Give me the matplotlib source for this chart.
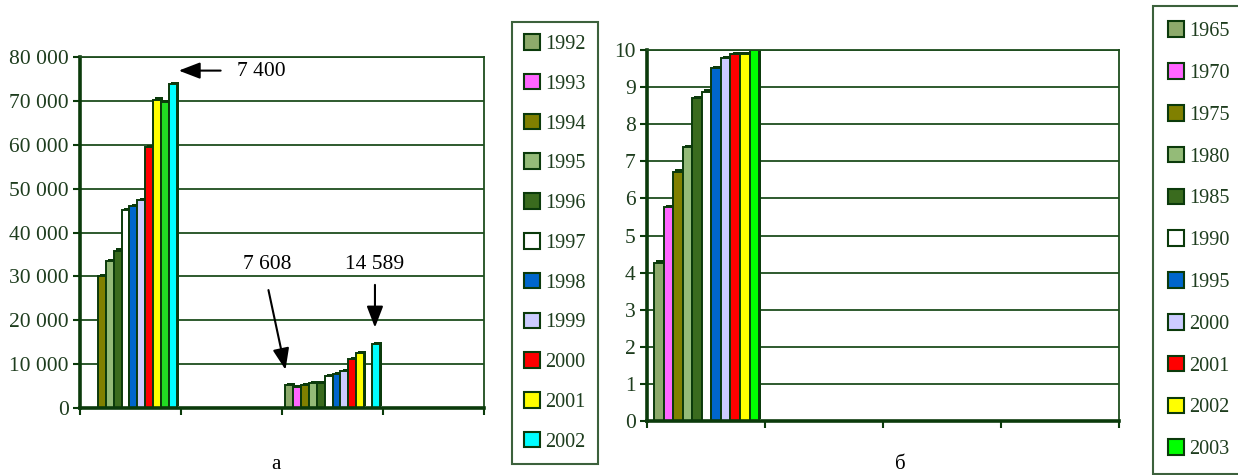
import matplotlib
matplotlib.use("Agg")
import matplotlib.pyplot as plt
from matplotlib.patches import Patch
import numpy as np

plt.rcParams['font.family'] = ['Liberation Serif', 'DejaVu Serif']

# chart "а": two groups of bars (categories 1 and 3 of 4)
years_a = ['1992', '1993', '1994', '1995', '1996', '1997',
           '1998', '1999', '2000', '2001', '', '2002']
group1_a = [0, 0, 30000, 33500, 35900, 45100, 46100, 47400, 59400, 70300, 69700, 73900]
group2_a = [5200, 4700, 5200, 5700, 5700, 7200, 7700, 8400, 11200, 12500, 0, 14589]
colors_a = ['#8DAA6B', '#FF66FF', '#808000', '#94BB78', '#3A6B1E', '#FFFFFF',
            '#0066CC', '#CCCCFF', '#FF0000', '#FFFF00', '#22DD22', '#00FFFF']
yticks_a = [0, 10000, 20000, 30000, 40000, 50000, 60000, 70000, 80000]
ylabels_a = ['0', '10 000', '20 000', '30 000', '40 000', '50 000',
             '60 000', '70 000', '80 000']

# chart "б": one group of bars
years_b = ['1965', '1970', '1975', '1980', '1985', '1990',
           '1995', '2000', '2001', '2002', '2003']
values_b = [4.27, 5.77, 6.72, 7.39, 8.70, 8.88, 9.51, 9.78, 9.89, 9.89, 10.0]
colors_b = ['#8DAA6B', '#FF66FF', '#808000', '#94BB78', '#3A6B1E', '#FFFFFF',
            '#0066CC', '#CCCCFF', '#FF0000', '#FFFF00', '#00FF00']

dark = '#0B3A0B'
txt = '#1E3D1E'

fig = plt.figure(figsize=(12.38, 4.75), dpi=100)


def style_axes(ax, ymax):
    ax.set_xlim(0, 4)
    ax.set_ylim(0, ymax)
    ax.yaxis.grid(True, color='#1E4D1E', linewidth=1.3)
    ax.set_axisbelow(True)
    for s in ['left', 'bottom']:
        ax.spines[s].set_color(dark)
        ax.spines[s].set_linewidth(2.6)
    for s in ['top', 'right']:
        ax.spines[s].set_color('#1E4D1E')
        ax.spines[s].set_linewidth(1.3)
    ax.set_xticks([0, 1, 2, 3, 4])
    ax.set_xticklabels([])
    ax.tick_params(axis='both', colors=dark, width=1.5, length=5, pad=3,
                   labelsize=15.5, labelcolor=txt, direction='out')


def bars3d(ax, x, h, w, color, dx, dy):
    # dark depth face behind the bar, then the bar itself
    h = np.asarray(h, dtype=float)
    ax.bar(np.asarray(x) + dx, np.where(h > 0, h, 0), width=w, bottom=dy,
           color=dark, linewidth=0, zorder=2)
    ax.bar(x, h, width=w, color=color, edgecolor=dark, linewidth=1.4, zorder=2)


def make_legend(handles, anchor, spacing, pad):
    leg = fig.legend(handles=handles, loc='upper left', bbox_to_anchor=anchor,
                     fontsize=14.6, frameon=True, fancybox=False, edgecolor=dark,
                     handlelength=0.8, handleheight=0.8, handletextpad=0.25,
                     labelspacing=spacing, borderpad=pad, borderaxespad=0)
    leg.get_frame().set_linewidth(1.5)
    for t in leg.get_texts():
        t.set_color(txt)
    return leg


# ---- chart а ----
ax1 = fig.add_axes([0.0646, 0.141, 0.3264, 0.739])
style_axes(ax1, 80000)
n = len(years_a)
w = 0.078
offs = (np.arange(n) - (n - 1) / 2) * w
for i in range(n):
    bars3d(ax1, [0.49 + offs[i], 2.5 + offs[i]], [group1_a[i], group2_a[i]], w,
           colors_a[i], 0.022, 500)
ax1.set_yticks(yticks_a)
ax1.set_yticklabels(ylabels_a)

arrow = dict(arrowstyle='-|>,head_length=1.3,head_width=0.5', color='black', lw=1.5)
ax1.annotate('', xy=(0.95, 76900), xytext=(1.42, 76900), arrowprops=arrow)
ax1.text(1.55, 76600, '7 400', fontsize=15.5, va='center', ha='left', color='black')
ax1.text(1.85, 32800, '7 608', fontsize=15.5, va='center', ha='center', color='black')
ax1.annotate('', xy=(2.04, 8100), xytext=(1.86, 27500), arrowprops=arrow)
ax1.text(2.92, 32800, '14 589', fontsize=15.5, va='center', ha='center', color='black')
ax1.annotate('', xy=(2.92, 17700), xytext=(2.92, 28700), arrowprops=arrow)

handles_a = [Patch(facecolor=colors_a[i], edgecolor=dark, linewidth=1.5, label=years_a[i])
             for i in range(n) if years_a[i]]
make_legend(handles_a, (0.4136, 0.9537), 0.985, 0.6)
fig.text(0.223, 0.012, 'а', fontsize=15, ha='center', color='black')

# ---- chart б ----
ax2 = fig.add_axes([0.5226, 0.1137, 0.3813, 0.781])
style_axes(ax2, 10)
m = len(years_b)
w2 = 0.081
offs2 = (np.arange(m) - (m - 1) / 2) * w2
for i in range(m):
    bars3d(ax2, [0.505 + offs2[i]], [values_b[i]], w2, colors_b[i], 0.018, 0.06)
ax2.set_yticks(range(0, 11))

handles_b = [Patch(facecolor=colors_b[i], edgecolor=dark, linewidth=1.5, label=years_b[i])
             for i in range(m)]
make_legend(handles_b, (0.9313, 0.987), 1.085, 0.75)
fig.text(0.727, 0.012, 'б', fontsize=15, ha='center', color='black')

fig.savefig('out.png', dpi=100)
